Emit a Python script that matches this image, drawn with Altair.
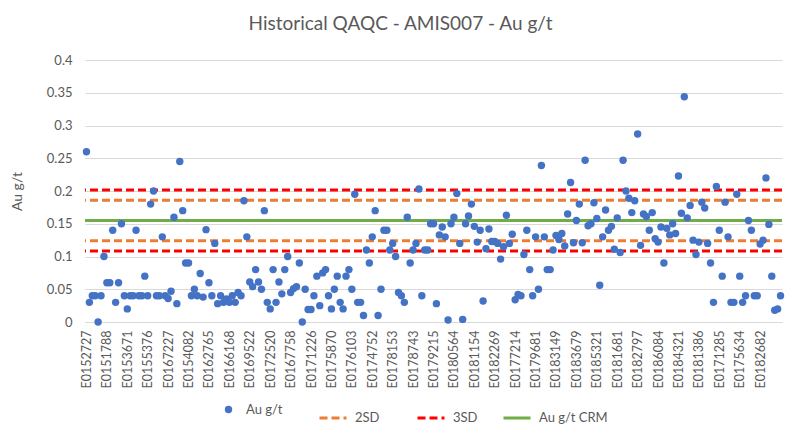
import altair as alt
import pandas as pd

# Sample IDs shown on the category axis (every 7th sample)
tick_labels = ["E0152727", "E0151788", "E0153671", "E0155376", "E0167227", "E0154082",
               "E0162765", "E0166168", "E0169522", "E0172520", "E0167758", "E0171226",
               "E0175870", "E0176103", "E0174752", "E0178153", "E0178743", "E0179215",
               "E0180564", "E0181154", "E0182269", "E0177214", "E0179681", "E0183149",
               "E0183679", "E0185321", "E0181681", "E0182797", "E0186084", "E0184321",
               "E0181386", "E0171285", "E0175634", "E0182682"]

# Au g/t assay values of the standard, in sample order
au_values = [
    0.26, 0.03, 0.04, 0.04, 0.0, 0.04, 0.1, 0.06, 0.06, 0.14,
    0.03, 0.06, 0.15, 0.04, 0.02, 0.04, 0.04, 0.14, 0.04, 0.04,
    0.07, 0.04, 0.18, 0.20, 0.04, 0.04, 0.13, 0.04, 0.036, 0.047,
    0.16, 0.028, 0.245, 0.17, 0.09, 0.09, 0.04, 0.05, 0.04, 0.074,
    0.038, 0.141, 0.06, 0.04, 0.12, 0.028, 0.04, 0.03, 0.035, 0.03,
    0.04, 0.03, 0.045, 0.04, 0.185, 0.13, 0.061, 0.054, 0.08, 0.061,
    0.05, 0.17, 0.03, 0.02, 0.08, 0.03, 0.061, 0.043, 0.08, 0.10,
    0.045, 0.051, 0.054, 0.09, 0.0, 0.05, 0.019, 0.019, 0.04, 0.07,
    0.025, 0.075, 0.08, 0.04, 0.02, 0.05, 0.07, 0.03, 0.02, 0.07,
    0.08, 0.05, 0.195, 0.03, 0.03, 0.01, 0.11, 0.09, 0.13, 0.17,
    0.01, 0.05, 0.14, 0.14, 0.11, 0.12, 0.1, 0.045, 0.04, 0.03,
    0.16, 0.09, 0.11, 0.12, 0.203, 0.04, 0.11, 0.11, 0.15, 0.15,
    0.028, 0.133, 0.145, 0.13, 0.003, 0.15, 0.16, 0.196, 0.12, 0.004,
    0.15, 0.162, 0.18, 0.146, 0.122, 0.14, 0.032, 0.112, 0.142, 0.123,
    0.123, 0.12, 0.096, 0.115, 0.163, 0.12, 0.134, 0.034, 0.042, 0.04,
    0.103, 0.14, 0.08, 0.04, 0.13, 0.05, 0.239, 0.13, 0.08, 0.08,
    0.11, 0.132, 0.126, 0.135, 0.116, 0.165, 0.213, 0.121, 0.155, 0.18,
    0.121, 0.247, 0.147, 0.15, 0.182, 0.158, 0.056, 0.13, 0.171, 0.14,
    0.146, 0.111, 0.159, 0.106, 0.247, 0.2, 0.189, 0.167, 0.185, 0.287,
    0.117, 0.165, 0.161, 0.14, 0.167, 0.127, 0.122, 0.145, 0.09, 0.143,
    0.133, 0.15, 0.135, 0.223, 0.166, 0.344, 0.159, 0.178, 0.125, 0.103,
    0.122, 0.183, 0.174, 0.12, 0.09, 0.03, 0.207, 0.14, 0.07, 0.183,
    0.13, 0.03, 0.03, 0.195, 0.07, 0.03, 0.04, 0.155, 0.14, 0.04,
    0.04, 0.119, 0.125, 0.22, 0.149, 0.07, 0.018, 0.02, 0.04,
]

crm_value = [0.155]
sd2_values = [0.124, 0.186]
sd3_values = [0.1085, 0.2015]
y_ticks = [0, 0.05, 0.1, 0.15, 0.2, 0.25, 0.3, 0.35, 0.4]
label_step = 7

N = len(au_values)
FONT = "Lato"
GREY = "#595959"

pts = pd.DataFrame({"idx": list(range(N)), "au": au_values, "series": "Au g/t"})
sd2 = pd.DataFrame({"au": sd2_values, "series": "2SD"})
sd3 = pd.DataFrame({"au": sd3_values, "series": "3SD"})
crm = pd.DataFrame({"au": crm_value, "series": "Au g/t CRM"})

label_js = "[" + ",".join("'%s'" % s for s in tick_labels) + "]"


def y_enc():
    return alt.Y(
        "au:Q",
        scale=alt.Scale(domain=[0, 0.4], nice=False, zero=True),
        axis=alt.Axis(values=y_ticks, format="~f", grid=True, gridColor="#D9D9D9",
                      gridWidth=1, domain=False, ticks=False, labelPadding=13,
                      labelFont=FONT, labelFontSize=13, labelColor=GREY,
                      labelOverlap=False, tickCount=9,
                      title="Au g/t", titleFont=FONT, titleFontSize=14,
                      titleFontWeight="normal", titleColor=GREY, titlePadding=22),
    )


def leg(x, stype, size, dash=None, offset=7):
    kw = dict(orient="none", legendX=x, legendY=343, title=None, symbolType=stype,
              symbolSize=size, labelFont=FONT, labelFontSize=13, labelColor=GREY,
              labelOffset=offset, padding=0)
    if dash is not None:
        kw["symbolDash"] = dash
        kw["symbolStrokeWidth"] = 3
    return alt.Legend(**kw)


def rule_layer(df, name, colour, dash, x):
    enc_kw = dict(
        y=y_enc(),
        color=alt.Color("series:N", scale=alt.Scale(domain=[name], range=[colour]),
                        legend=leg(x, "stroke", 729, dash if dash else [1, 0])),
    )
    if dash:
        m = alt.Chart(df).mark_rule(strokeWidth=3, strokeDash=dash)
    else:
        m = alt.Chart(df).mark_rule(strokeWidth=3)
    return m.encode(**enc_kw)


points = alt.Chart(pts).mark_circle(size=55, opacity=1).encode(
    x=alt.X("idx:Q",
            scale=alt.Scale(domain=[-0.5, N - 0.5], nice=False, zero=False),
            axis=alt.Axis(values=list(range(0, label_step * len(tick_labels), label_step)),
                          labelExpr=label_js + "[round(datum.value/7)]",
                          labelAngle=-90, grid=False, ticks=False, domainColor="#D9D9D9",
                          labelFont=FONT, labelFontSize=12.5, labelColor=GREY,
                          labelPadding=8, title=None, labelOverlap=False)),
    y=y_enc(),
    color=alt.Color("series:N", scale=alt.Scale(domain=["Au g/t"], range=["#4472C4"]),
                    legend=leg(137, "circle", 55, None, 11)),
)

chart = alt.layer(
    rule_layer(sd2, "2SD", "#ED7D31", [8, 4], 233),
    rule_layer(sd3, "3SD", "#FF0000", [8, 4], 331),
    rule_layer(crm, "Au g/t CRM", "#70AD47", None, 417),
    points,
).resolve_scale(color="independent").properties(
    width=697, height=262,
    autosize=alt.AutoSizeParams(type="none"),
    padding={"left": 77, "top": 52, "right": 10, "bottom": 109},
    title=alt.TitleParams(text="Historical QAQC - AMIS007 - Au g/t", font=FONT,
                          fontSize=19, fontWeight="normal", color=GREY,
                          anchor="middle", offset=20, dx=-33),
    background="white",
).configure_view(stroke=None)

chart.save("out.html", embed_options={"renderer": "svg", "actions": False})
